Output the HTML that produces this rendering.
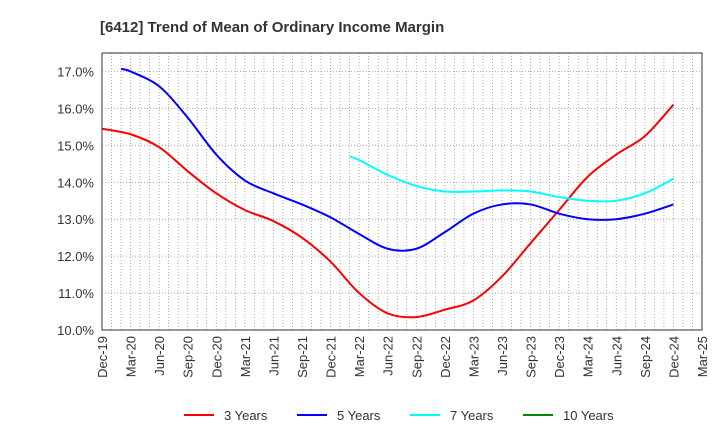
<!DOCTYPE html>
<html><head><meta charset="utf-8"><style>
body{margin:0;background:#fff;font-family:"Liberation Sans",sans-serif}
</style></head><body>
<svg id="c" width="720" height="440" xmlns="http://www.w3.org/2000/svg">
<text x="100" y="32" font-size="15" font-weight="bold" fill="#333">[6412]  Trend of Mean of Ordinary Income Margin</text>
<g id="grid"></g><g id="lines"></g><g id="axes"></g><g id="legend"></g>
</svg>
<script>
const xLabels=["Dec-19","Mar-20","Jun-20","Sep-20","Dec-20","Mar-21","Jun-21","Sep-21","Dec-21","Mar-22","Jun-22","Sep-22","Dec-22","Mar-23","Jun-23","Sep-23","Dec-23","Mar-24","Jun-24","Sep-24","Dec-24","Mar-25"];
const yTicks=[10,11,12,13,14,15,16,17];
// monthly index from Dec-19 for each point
const m3=[0,3,6,9,12,15,18,21,24,27,30,33,36,39,42,45,48,51,54,57,60];
const s3=[15.45,15.3,14.95,14.3,13.7,13.25,12.95,12.5,11.85,11.0,10.45,10.35,10.55,10.8,11.45,12.35,13.25,14.15,14.75,15.25,16.1];
const m5=[2,3,6,9,12,15,18,21,24,27,30,33,36,39,42,45,48,51,54,57,60];
const s5=[17.07,17.0,16.6,15.75,14.75,14.05,13.7,13.4,13.05,12.6,12.2,12.2,12.65,13.15,13.4,13.4,13.15,13.0,13.0,13.15,13.4];
const m7=[26,27,30,33,36,39,42,45,48,51,54,57,60];
const s7=[14.7,14.6,14.2,13.9,13.75,13.75,13.78,13.75,13.6,13.5,13.5,13.7,14.1];
const m10=[];
const s10=[];
const L=102,R=702,T=53,B=330,yMin=10,yMax=17.5;
const months=(xLabels.length-1)*3;
const X=m=>L+(R-L)*m/months;
const Y=v=>B-(B-T)*(v-yMin)/(yMax-yMin);
const ns="http://www.w3.org/2000/svg";
function mk(p,t,a){const e=document.createElementNS(ns,t);for(const k in a)e.setAttribute(k,a[k]);document.getElementById(p).appendChild(e);return e;}
for(let m=1;m<months;m++){const x=X(m);
const g=mk('grid','line',{x1:x,x2:x,y1:T,y2:B,stroke:'#999','stroke-width':0.8,'stroke-dasharray':'1,2'});
}
yTicks.forEach(v=>{const g=mk('grid','line',{x1:L,x2:R,y1:Y(v),y2:Y(v),stroke:'#999','stroke-width':0.8,'stroke-dasharray':'1,2'});

const t=mk('axes','text',{x:L-8,y:Y(v)+5,'text-anchor':'end','font-size':13,fill:'#333'});t.textContent=v.toFixed(1)+'%';
});
xLabels.forEach((s,i)=>{const t=mk('axes','text',{transform:`translate(${X(i*3)+5},${B+6}) rotate(-90)`,'text-anchor':'end','font-size':13,fill:'#333'});t.textContent=s;
});
const fr=mk('axes','rect',{x:L,y:T,width:R-L,height:B-T,fill:'none',stroke:'#333','stroke-width':1});

function path(ms,arr){const p=arr.map((v,i)=>[X(ms[i]),Y(v)]);if(p.length<2)return '';
let d=`M${p[0][0]},${p[0][1]}`;for(let i=0;i<p.length-1;i++){const p0=p[i-1]||p[i],p1=p[i],p2=p[i+1],p3=p[i+2]||p2;
d+=` C${p1[0]+(p2[0]-p0[0])/6},${p1[1]+(p2[1]-p0[1])/6} ${p2[0]-(p3[0]-p1[0])/6},${p2[1]-(p3[1]-p1[1])/6} ${p2[0]},${p2[1]}`;}return d;}
const series=[["3 Years",m3,s3,"#f00"],["5 Years",m5,s5,"#00f"],["7 Years",m7,s7,"#0ff"],["10 Years",m10,s10,"#080"]];
series.forEach(([n,ms,a,c],k)=>{const d=path(ms,a);if(d){const e=mk('lines','path',{d,fill:'none',stroke:c,'stroke-width':2});
}
const lx=[184,297,410,523][k];
const l=mk('legend','line',{x1:lx,x2:lx+30,y1:415,y2:415,stroke:c,'stroke-width':2});

const t=mk('legend','text',{x:lx+40,y:420,'font-size':13,fill:'#333'});t.textContent=n;
});
</script>
</body></html>
